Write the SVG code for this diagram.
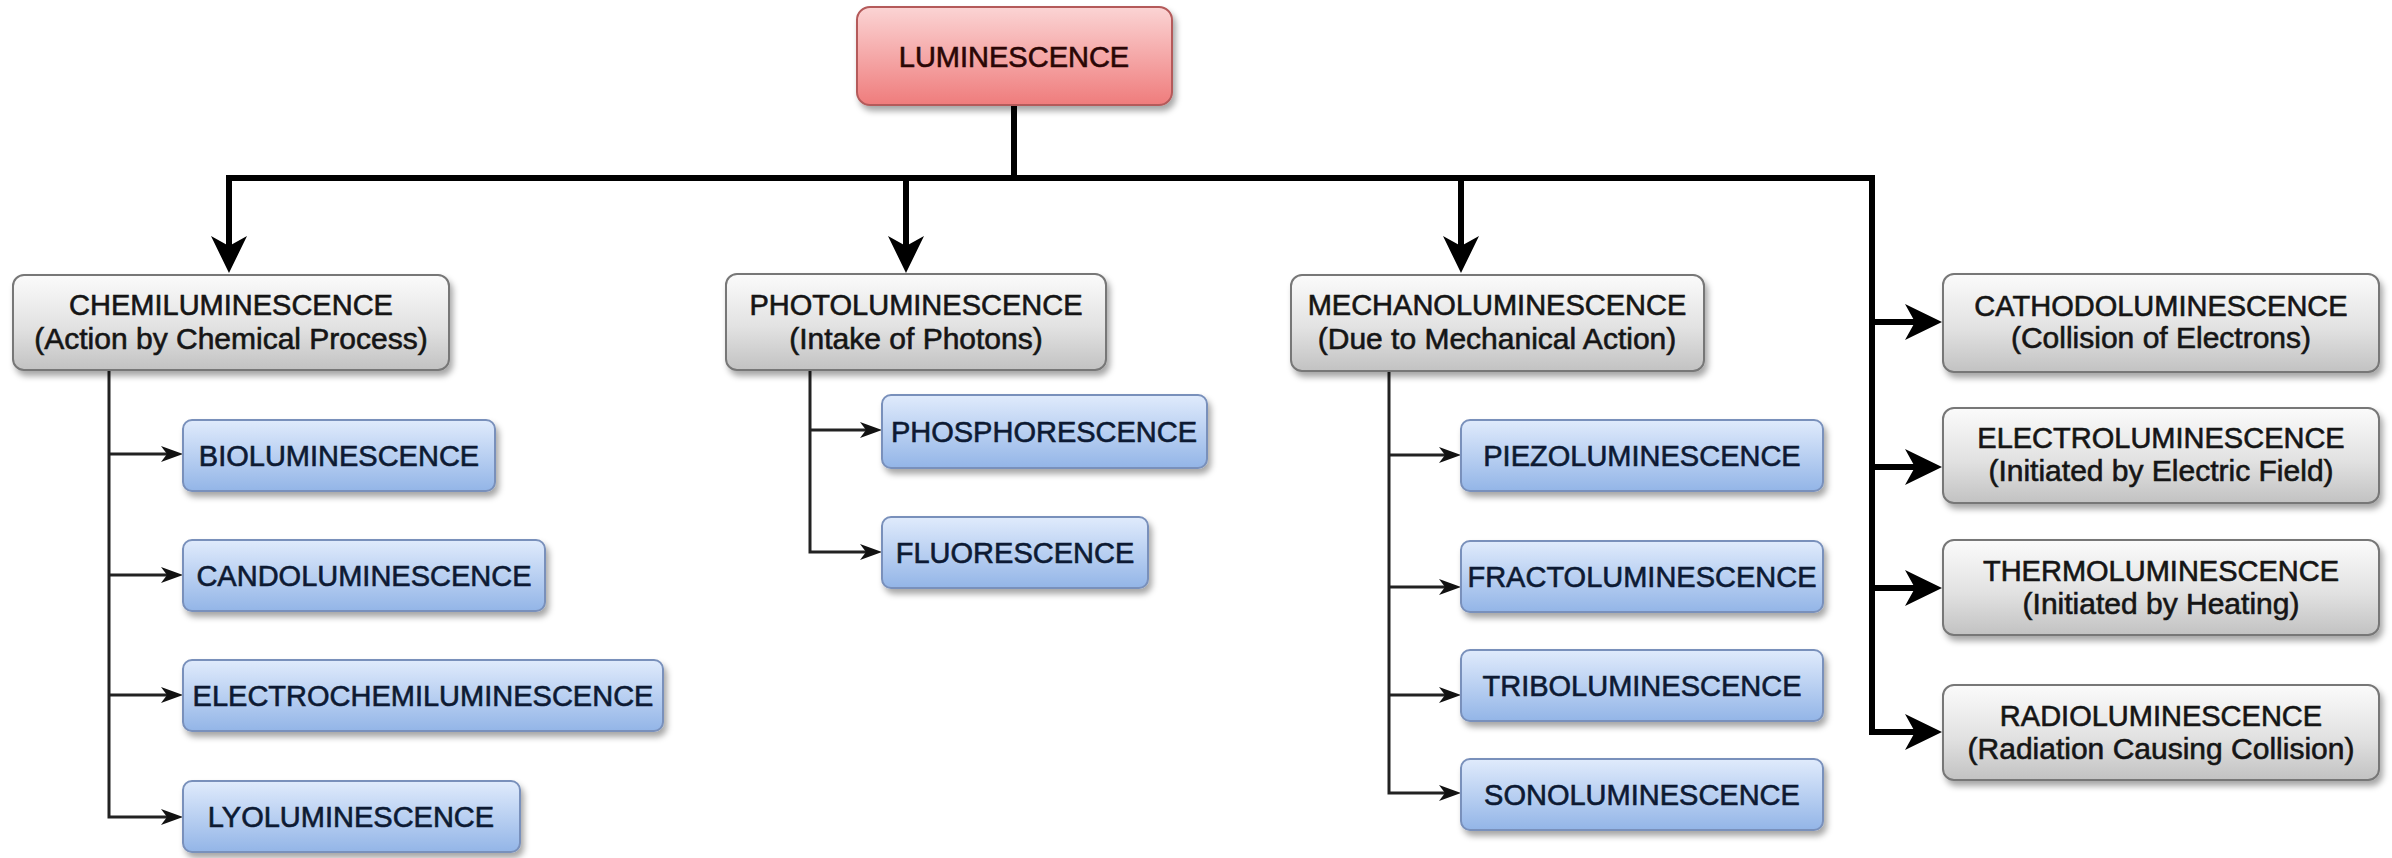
<svg xmlns="http://www.w3.org/2000/svg" width="2392" height="858" viewBox="0 0 2392 858">
<defs>
<linearGradient id="gRed" x1="0" y1="0" x2="0" y2="1"><stop offset="0" stop-color="#fbd4d4"/><stop offset="1" stop-color="#ef7c7c"/></linearGradient>
<linearGradient id="gGray" x1="0" y1="0" x2="0" y2="1"><stop offset="0" stop-color="#fbfbfb"/><stop offset="0.55" stop-color="#e2e2e2"/><stop offset="1" stop-color="#c2c2c2"/></linearGradient>
<linearGradient id="gBlue" x1="0" y1="0" x2="0" y2="1"><stop offset="0" stop-color="#e0ebfc"/><stop offset="1" stop-color="#93b5e7"/></linearGradient>
<filter id="sh" x="-10%" y="-20%" width="125%" height="150%"><feDropShadow dx="3" dy="5" stdDeviation="3" flood-color="#000" flood-opacity="0.35"/></filter>
<marker id="big" markerUnits="userSpaceOnUse" markerWidth="38" markerHeight="38" viewBox="0 0 38 38" refX="12" refY="19" orient="auto"><path d="M0,1 L37,19 L0,37 L10,19 Z" fill="#000"/></marker>
<marker id="small" markerUnits="userSpaceOnUse" markerWidth="23" markerHeight="18" viewBox="0 0 23 18" refX="7" refY="9" orient="auto"><path d="M0,1 L22,9 L0,17 L6,9 Z" fill="#111"/></marker>
<style>
.red{fill:url(#gRed);stroke:#b45a5a;stroke-width:2;filter:url(#sh)}
.gray{fill:url(#gGray);stroke:#777;stroke-width:2;filter:url(#sh)}
.blue{fill:url(#gBlue);stroke:#7990bb;stroke-width:2;filter:url(#sh)}
text{font-family:"Liberation Sans",Arial,sans-serif;text-anchor:middle;stroke-width:0.6px}
.t1{font-size:29px;fill:#151515;stroke:#151515}
.t2{font-size:30px;fill:#151515;stroke:#151515}
.tb{font-size:29px;fill:#0d1a33;stroke:#0d1a33}
.tr{font-size:29px;fill:#2a0606;stroke:#2a0606}
.thick{fill:none;stroke:#000;stroke-width:6;stroke-linejoin:miter}
.thin{fill:none;stroke:#222;stroke-width:3}
</style>
</defs>
<g id="connectors">
<path class="thick" d="M1014,105 L1014,178"/>
<path class="thick" d="M229,248 L229,178 L1872,178 L1872,732 L1917,732" marker-end="url(#big)"/>
<line class="thick" x1="229" y1="200" x2="229" y2="248" marker-end="url(#big)"/>
<line class="thick" x1="906" y1="178" x2="906" y2="248" marker-end="url(#big)"/>
<line class="thick" x1="1461" y1="178" x2="1461" y2="248" marker-end="url(#big)"/>
<line class="thick" x1="1872" y1="322" x2="1917" y2="322" marker-end="url(#big)"/>
<line class="thick" x1="1872" y1="467" x2="1917" y2="467" marker-end="url(#big)"/>
<line class="thick" x1="1872" y1="588" x2="1917" y2="588" marker-end="url(#big)"/>
<path class="thin" d="M109,370 L109,817 L168,817" marker-end="url(#small)"/>
<line class="thin" x1="109" y1="454" x2="168" y2="454" marker-end="url(#small)"/>
<line class="thin" x1="109" y1="575" x2="168" y2="575" marker-end="url(#small)"/>
<line class="thin" x1="109" y1="695" x2="168" y2="695" marker-end="url(#small)"/>
<path class="thin" d="M810,370 L810,552 L867,552" marker-end="url(#small)"/>
<line class="thin" x1="810" y1="430" x2="867" y2="430" marker-end="url(#small)"/>
<path class="thin" d="M1389,371 L1389,793 L1446,793" marker-end="url(#small)"/>
<line class="thin" x1="1389" y1="455" x2="1446" y2="455" marker-end="url(#small)"/>
<line class="thin" x1="1389" y1="587" x2="1446" y2="587" marker-end="url(#small)"/>
<line class="thin" x1="1389" y1="695" x2="1446" y2="695" marker-end="url(#small)"/>
</g>
<g id="luminescence"><rect class="red" x="857" y="7" width="315" height="98" rx="13"/><text class="tr" x="1014" y="67">LUMINESCENCE</text></g>
<g id="chemiluminescence"><rect class="gray" x="13" y="275" width="436" height="95" rx="11"/><text class="t1" x="231" y="315">CHEMILUMINESCENCE</text><text class="t2" x="231" y="349">(Action by Chemical Process)</text></g>
<g id="photoluminescence"><rect class="gray" x="726" y="274" width="380" height="96" rx="11"/><text class="t1" x="916" y="315">PHOTOLUMINESCENCE</text><text class="t2" x="916" y="349">(Intake of Photons)</text></g>
<g id="mechanoluminescence"><rect class="gray" x="1291" y="275" width="413" height="96" rx="11"/><text class="t1" x="1497" y="315">MECHANOLUMINESCENCE</text><text class="t2" x="1497" y="349">(Due to Mechanical Action)</text></g>
<g id="cathodoluminescence"><rect class="gray" x="1943" y="274" width="436" height="98" rx="11"/><text class="t1" x="2161" y="316">CATHODOLUMINESCENCE</text><text class="t2" x="2161" y="348">(Collision of Electrons)</text></g>
<g id="electroluminescence"><rect class="gray" x="1943" y="408" width="436" height="95" rx="11"/><text class="t1" x="2161" y="448">ELECTROLUMINESCENCE</text><text class="t2" x="2161" y="481">(Initiated by Electric Field)</text></g>
<g id="thermoluminescence"><rect class="gray" x="1943" y="540" width="436" height="95" rx="11"/><text class="t1" x="2161" y="581">THERMOLUMINESCENCE</text><text class="t2" x="2161" y="614">(Initiated by Heating)</text></g>
<g id="radioluminescence"><rect class="gray" x="1943" y="685" width="436" height="95" rx="11"/><text class="t1" x="2161" y="726">RADIOLUMINESCENCE</text><text class="t2" x="2161" y="759">(Radiation Causing Collision)</text></g>
<g id="bioluminescence"><rect class="blue" x="183" y="420" width="312" height="71" rx="9"/><text class="tb" x="339" y="466">BIOLUMINESCENCE</text></g>
<g id="candoluminescence"><rect class="blue" x="183" y="540" width="362" height="71" rx="9"/><text class="tb" x="364" y="586">CANDOLUMINESCENCE</text></g>
<g id="electrochemiluminescence"><rect class="blue" x="183" y="660" width="480" height="71" rx="9"/><text class="tb" x="423" y="706">ELECTROCHEMILUMINESCENCE</text></g>
<g id="lyoluminescence"><rect class="blue" x="183" y="781" width="337" height="71" rx="9"/><text class="tb" x="351" y="827">LYOLUMINESCENCE</text></g>
<g id="phosphorescence"><rect class="blue" x="882" y="395" width="325" height="73" rx="9"/><text class="tb" x="1044" y="442">PHOSPHORESCENCE</text></g>
<g id="fluorescence"><rect class="blue" x="882" y="517" width="266" height="71" rx="9"/><text class="tb" x="1015" y="563">FLUORESCENCE</text></g>
<g id="piezoluminescence"><rect class="blue" x="1461" y="420" width="362" height="71" rx="9"/><text class="tb" x="1642" y="466">PIEZOLUMINESCENCE</text></g>
<g id="fractoluminescence"><rect class="blue" x="1461" y="541" width="362" height="71" rx="9"/><text class="tb" x="1642" y="587">FRACTOLUMINESCENCE</text></g>
<g id="triboluminescence"><rect class="blue" x="1461" y="650" width="362" height="71" rx="9"/><text class="tb" x="1642" y="696">TRIBOLUMINESCENCE</text></g>
<g id="sonoluminescence"><rect class="blue" x="1461" y="759" width="362" height="71" rx="9"/><text class="tb" x="1642" y="805">SONOLUMINESCENCE</text></g>
</svg>
